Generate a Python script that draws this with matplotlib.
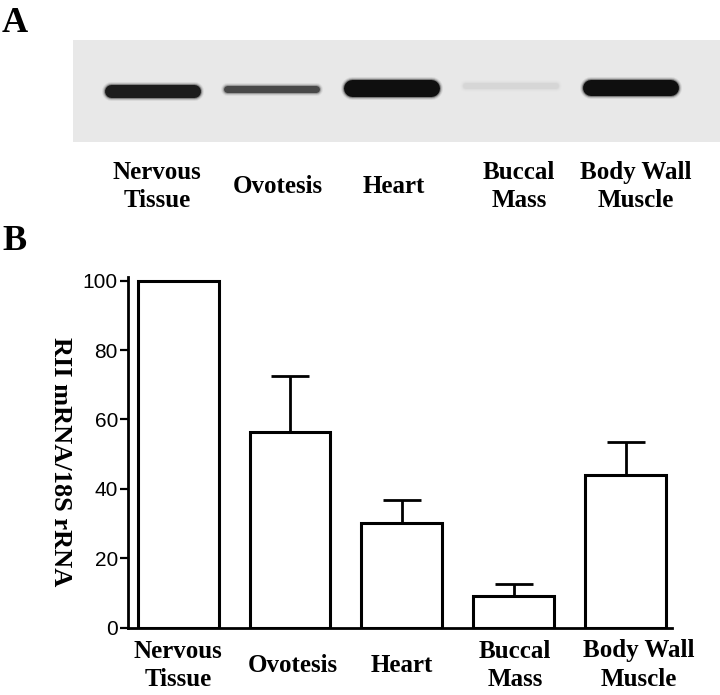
import matplotlib
matplotlib.use("Agg")
import matplotlib.pyplot as plt
import numpy as np
from matplotlib.transforms import ScaledTranslation

# ---------------- data ----------------
tissues = ["Nervous\nTissue", "Ovotesis", "Heart", "Buccal\nMass", "Body Wall\nMuscle"]
rii_mrna = [100.0, 56.4, 30.3, 9.1, 44.1]          # RII mRNA / 18S rRNA (% of nervous tissue)
rii_sem = [0.0, 16.0, 6.6, 3.4, 9.5]               # upper error
band_density = [0.92, 0.72, 0.98, 0.08, 0.98]      # blot band darkness

# ---------------- style ----------------
SERIF = ["Liberation Serif", "DejaVu Serif"]
SANS = ["Liberation Sans", "DejaVu Sans"]
band_thickness_px = [13, 7, 17, 6, 16]
band_yoffset_px = [2, 0, -1, -3, -1]
gel_label_dx_px = [5, 6, 2, 8, 5]
bar_label_dx_px = [0, 3, 0, 1, 13]
PX = 72 / 100  # points per pixel

W, H = 720, 695
fig = plt.figure(figsize=(W / 100, H / 100), dpi=100)
fig.patch.set_facecolor("white")

def px_axes(x0, x1, ytop, ybot):
    return fig.add_axes([x0 / W, 1 - ybot / H, (x1 - x0) / W, (ybot - ytop) / H])

# ---------------- panel A: blot ----------------
gx0, gx1, gy0, gy1 = 72.7, 720, 40, 142
axg = px_axes(gx0, gx1, gy0, gy1)
lane_px = 119.7
lane0_px = 152
axg.set_xlim((gx0 - lane0_px) / lane_px, (gx1 - lane0_px) / lane_px)
axg.set_ylim(gy1, gy0)  # pixel rows, top = 40
axg.set_facecolor("#e8e8e8")
for s in axg.spines.values():
    s.set_visible(False)

lanes = np.arange(len(tissues))
band_w_px = 96
for i, d in enumerate(band_density):
    gray = 0.91 - 0.87 * d
    th = band_thickness_px[i]
    yc = 89 + band_yoffset_px[i]
    half = (band_w_px / 2 - th / 2) / lane_px
    for grow, a in [(6.0, 0.08), (4.0, 0.15), (2.0, 0.35), (0.0, 1.0)]:
        axg.plot([lanes[i] - half, lanes[i] + half], [yc, yc],
                 color=(gray, gray, gray), alpha=a, linewidth=(th + grow) * PX,
                 solid_capstyle="round")

axg.set_yticks([])
axg.set_xticks(lanes)
axg.set_xticklabels(tissues, fontfamily=SERIF, fontweight="bold", fontsize=18,
                    va="center", ha="center", linespacing=1.3)
axg.tick_params(axis="x", length=0, pad=32)
for lbl, dx in zip(axg.get_xticklabels(), gel_label_dx_px):
    lbl.set_transform(lbl.get_transform() + ScaledTranslation(dx / 100, 0, fig.dpi_scale_trans))

# ---------------- panel B: bar chart ----------------
ax = px_axes(127.7, 671.7, 277.2, 627.7)
x = np.arange(len(tissues))
ax.bar(x, rii_mrna, width=0.723, color="white", edgecolor="black", linewidth=2.2, zorder=2)
ax.errorbar(x, rii_mrna, yerr=[np.zeros(len(rii_sem)), rii_sem], fmt="none",
            ecolor="black", elinewidth=2.0, capsize=14, capthick=2.0, zorder=3)
ax.set_xlim(-0.45, 4.41)
ax.set_ylim(0, 101)
ax.spines["top"].set_visible(False)
ax.spines["right"].set_visible(False)
ax.spines["left"].set_linewidth(2.0)
ax.spines["bottom"].set_linewidth(2.0)
ax.set_yticks(np.arange(0, 101, 20))
ax.set_yticklabels([str(v) for v in range(0, 101, 20)], fontfamily=SANS, fontsize=15)
ax.tick_params(axis="y", direction="out", length=6, width=1.6, pad=1)
ax.set_xticks(x)
ax.set_xticklabels(tissues, fontfamily=SERIF, fontweight="bold", fontsize=18,
                   va="center", ha="center", linespacing=1.3)
ax.tick_params(axis="x", length=0, pad=27)
for lbl, dx in zip(ax.get_xticklabels(), bar_label_dx_px):
    lbl.set_transform(lbl.get_transform() + ScaledTranslation(dx / 100, 0, fig.dpi_scale_trans))

fig.text(60 / W, 1 - 462 / H, "RII mRNA/18S rRNA", rotation=270, ha="center", va="center",
         fontfamily=SERIF, fontweight="bold", fontsize=19)

# panel letters
fig.text(2 / W, 1 - 32 / H, "A", fontfamily=SERIF, fontweight="bold", fontsize=26, ha="left", va="baseline")
fig.text(2 / W, 1 - 250 / H, "B", fontfamily=SERIF, fontweight="bold", fontsize=26, ha="left", va="baseline")

fig.savefig("out.png", dpi=100, facecolor="white")
